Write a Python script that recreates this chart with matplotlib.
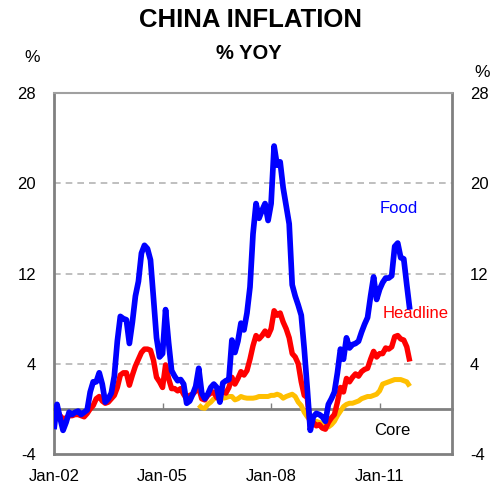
import numpy as np
import matplotlib.pyplot as plt

plt.rcParams['font.family'] = ['Liberation Sans', 'DejaVu Sans']
plt.rcParams['axes.unicode_minus'] = False

# monthly % yoy, Jan-02 .. Nov-11
food = [
    -1.8, 0.4, -0.8, -1.9, -1.2, -0.3, -0.5, -0.3, -0.2, -0.5, -0.3, -0.1,   # 2002
    1.5, 2.4, 2.4, 3.2, 2.2, 0.6, 0.9, 1.4, 2.9, 6.0, 8.2, 8.0,              # 2003
    7.9, 5.8, 7.7, 10.0, 11.3, 13.8, 14.5, 14.2, 13.2, 9.8, 6.3, 4.6,        # 2004
    4.9, 8.8, 5.9, 3.4, 2.9, 2.5, 2.6, 2.2, 0.5, 0.7, 1.3, 2.0,              # 2005
    3.6, 1.4, 0.9, 1.3, 1.9, 2.2, 1.9, 0.6, 2.3, 2.5, 2.6, 6.1,              # 2006
    5.0, 6.0, 7.6, 7.0, 8.5, 10.8, 15.5, 18.2, 16.9, 17.6, 18.2, 16.7,       # 2007
    18.2, 23.3, 21.6, 21.9, 19.6, 18.0, 16.4, 11.0, 10.0, 9.2, 8.3, 5.3,     # 2008
    1.8, -1.9, -0.7, -0.4, -0.5, -0.7, -1.1, 0.4, 0.9, 1.5, 3.2, 5.3,        # 2009
    4.4, 6.3, 5.4, 5.7, 5.8, 6.0, 6.8, 7.5, 8.1, 10.0, 11.7, 9.7,            # 2010
    10.6, 11.2, 11.6, 11.6, 11.8, 14.4, 14.7, 13.4, 13.3, 11.0, 8.8,         # 2011
]
headline = [
    -0.3, -0.2, -0.6, -0.9, -0.8, -0.6, -0.6, -0.5, -0.5, -0.6, -0.7, -0.4,
    0.0, 0.3, 0.9, 1.1, 0.7, 0.5, 0.6, 0.9, 1.2, 1.9, 3.0, 3.2,
    3.2, 2.1, 3.0, 3.8, 4.4, 5.0, 5.3, 5.3, 5.2, 4.3, 2.8, 2.4,
    1.9, 3.9, 2.7, 1.8, 1.8, 1.6, 1.8, 1.3, 0.9, 1.2, 1.3, 1.6,
    1.9, 0.9, 0.8, 1.2, 1.4, 1.5, 1.0, 1.3, 1.5, 1.4, 1.9, 2.8,
    2.2, 2.7, 3.3, 3.0, 3.4, 4.4, 5.6, 6.5, 6.2, 6.5, 6.9, 6.5,
    7.1, 8.7, 8.3, 8.5, 7.7, 7.1, 6.3, 4.9, 4.6, 4.0, 2.4, 1.2,
    1.0, -1.6, -1.2, -1.5, -1.4, -1.7, -1.8, -1.2, -0.8, -0.5, 0.6, 1.9,
    1.5, 2.7, 2.4, 2.8, 3.1, 2.9, 3.3, 3.5, 3.6, 4.4, 5.1, 4.6,
    4.9, 4.9, 5.4, 5.3, 5.5, 6.4, 6.5, 6.2, 6.1, 5.5, 4.2,
]
# core starts Jan-06
core_start = 48
core = [
    0.35, 0.1, 0.05, 0.4, 0.6, 0.9, 1.0, 0.95, 0.95, 1.0, 1.1, 1.1,
    0.8, 0.9, 1.1, 1.0, 0.95, 0.95, 0.95, 1.0, 1.1, 1.1, 1.1, 1.1,
    1.2, 1.2, 1.3, 1.2, 0.95, 1.1, 1.2, 1.3, 1.1, 0.6, 0.3, -0.3,
    -0.7, -1.0, -1.1, -1.1, -1.2, -1.3, -1.4, -1.6, -1.4, -1.1, -0.6, -0.2,
    0.2, 0.4, 0.5, 0.5, 0.6, 0.7, 0.9, 1.0, 1.1, 1.1, 1.2, 1.3,
    1.6, 2.2, 2.3, 2.4, 2.5, 2.6, 2.6, 2.6, 2.5, 2.4, 2.0,
]

xticks = [0, 36, 72, 108]
xlabels = ["Jan-02", "Jan-05", "Jan-08", "Jan-11"]
yticks = [-4, 4, 12, 20, 28]

t = np.arange(len(food))
tc = np.arange(core_start, core_start + len(core))

fig = plt.figure(figsize=(5.01, 4.86), dpi=100)
ax = fig.add_axes([0.1078, 0.0658, 0.7944, 0.7428])

grey = "#808080"
for y in [4, 12, 20, 28]:
    ax.axhline(y, color="#b4b4b4", lw=1.2, ls=(0, (4, 3)), zorder=1)

ax.plot(tc, core, color="#FFBF00", lw=3.6, solid_capstyle="butt", zorder=3)
ax.plot(t, headline, color="#FF0000", lw=3.9, solid_capstyle="butt", zorder=4)
ax.plot(t, food, color="#0000FF", lw=4.1, solid_capstyle="butt", zorder=5)

ax.set_xlim(0, 132)
ax.set_ylim(-4, 28)
ax.set_yticks(yticks)
ax.set_xticks(xticks)
ax.set_xticklabels(xlabels)
ax.tick_params(axis="x", length=0, pad=10.5, labelsize=12)
ax.tick_params(axis="y", length=0, pad=13, labelsize=12, labelright=True)

for s in ["left", "right", "bottom"]:
    ax.spines[s].set_color(grey)
    ax.spines[s].set_linewidth(2)
ax.spines["top"].set_color("#a0a0a0")
ax.spines["top"].set_linewidth(1.5)

# zero line with the month ticks on it
zero = ax.secondary_xaxis(4 / 32)
zero.set_xticks(xticks)
zero.tick_params(direction="in", length=4, width=1, color=grey, labelbottom=False)
zero.spines["bottom"].set_color(grey)
zero.spines["bottom"].set_linewidth(2)
zero.set_xticklabels([])

ax.text(114.2, 17.8, "Food", color="#0000FF", fontsize=12, ha="center", va="center")
ax.text(120.0, 8.5, "Headline", color="#FF0000", fontsize=12, ha="center", va="center")
ax.text(112.3, -1.95, "Core", color="black", fontsize=12, ha="center", va="center")

fig.text(0.5, 0.959, "CHINA INFLATION", fontsize=18.5, fontweight="bold", ha="center", va="center")
fig.text(0.497, 0.889, "% YOY", fontsize=14.5, fontweight="bold", ha="center", va="center")
fig.text(0.064, 0.882, "%", fontsize=12.5, ha="center", va="center")
fig.text(0.962, 0.85, "%", fontsize=12.5, ha="center", va="center")

fig.savefig("out.png", dpi=100)
